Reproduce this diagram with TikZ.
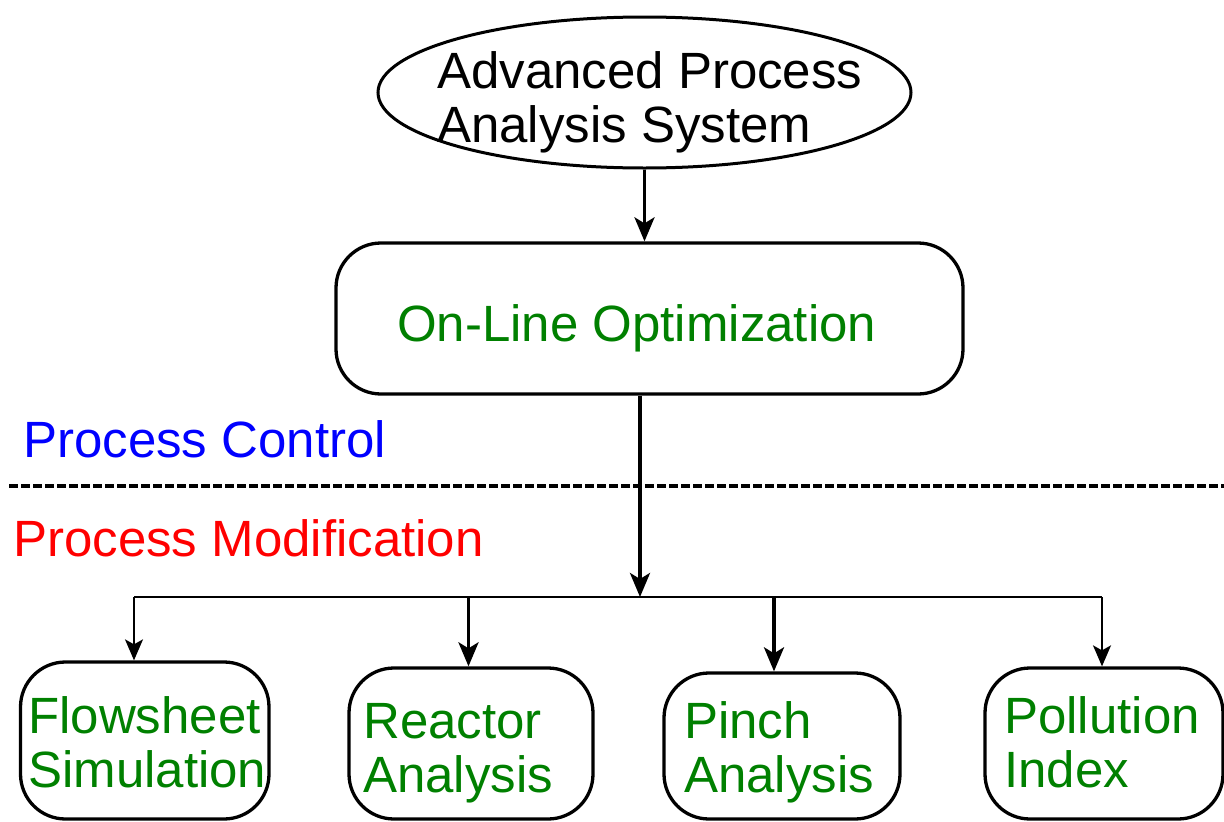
\documentclass[tikz,border=0pt]{standalone}
\usepackage{fontspec}
\setmainfont{Liberation Sans}
\usetikzlibrary{shapes.geometric,arrows.meta}
\definecolor{tgreen}{RGB}{0,128,0}
\begin{document}
\begin{tikzpicture}[x=1pt,y=-1pt,
  box/.style={draw,line width=3.3pt,rounded corners=45pt,inner sep=0pt},
  lbl/.style={inner sep=0pt,anchor=base west,font=\fontsize{51}{54}\selectfont},
  thickarr/.style={line width=3.5pt,-{Stealth[length=24pt,width=20pt,inset=6pt]}},
  thinarr/.style={line width=1.6pt,-{Stealth[length=21pt,width=18pt,inset=5pt]}}]
\useasboundingbox (0,0) rectangle (1224,822);
% top ellipse
\node[draw,ellipse,line width=3pt,minimum width=533pt,minimum height=151pt,inner sep=0pt] (apas) at (644.5,92.5) {};
\node[lbl] (apast) at (437,88) {\begin{tabular}[t]{@{}l@{}}Advanced Process\\Analysis System\end{tabular}};
% on-line optimization
\node[box,minimum width=627pt,minimum height=151pt] (olo) at (649.5,318.5) {};
\node[lbl,text=tgreen] (olot) at (397,341) {On-Line Optimization};
\draw[thickarr] (apas.south) -- (apas.south |- olo.north);
% labels and divider
\node[lbl,text=blue] (pc) at (23,457) {Process Control};
\node[lbl,text=red] (pm) at (13,556) {Process Modification};
\coordinate (dl) at (9,486);
\coordinate (dr) at (1224,486);
\draw[line width=4.5pt,dash pattern=on 8.5pt off 3.5pt] (dl) -- (dr);
% junction
\coordinate (j) at (640,597);
\draw[thickarr] (olo.south -| j) -- (j);
\coordinate (bfs) at (134,597);
\coordinate (bra) at (468.5,597);
\coordinate (bpi) at (774,597);
\coordinate (bpo) at (1102,597);
\draw[line width=1.6pt] (bfs) -- (bpo);
% bottom boxes
\node[box,minimum width=248.5pt,minimum height=157pt] (fs) at (144.75,740.5) {};
\node[box,minimum width=244pt,minimum height=151pt] (ra) at (471,743.5) {};
\node[box,minimum width=236pt,minimum height=146pt] (pi) at (782,746) {};
\node[box,minimum width=238pt,minimum height=151pt] (po) at (1104,743.5) {};
\node[lbl,text=tgreen] (fst) at (28,733) {\begin{tabular}[t]{@{}l@{}}Flowsheet\\Simulation\end{tabular}};
\node[lbl,text=tgreen] (rat) at (363,738) {\begin{tabular}[t]{@{}l@{}}Reactor\\Analysis\end{tabular}};
\node[lbl,text=tgreen] (pit) at (684,738) {\begin{tabular}[t]{@{}l@{}}Pinch\\Analysis\end{tabular}};
\node[lbl,text=tgreen] (pot) at (1004,733) {\begin{tabular}[t]{@{}l@{}}Pollution\\Index\end{tabular}};
% branch arrows
\draw[thinarr] (bfs) -- (bfs |- fs.north);
\draw[thickarr] (bra) -- (bra |- ra.north);
\draw[thickarr] (bpi) -- (bpi |- pi.north);
\draw[thinarr] (bpo) -- (bpo |- po.north);
\end{tikzpicture}
\end{document}
